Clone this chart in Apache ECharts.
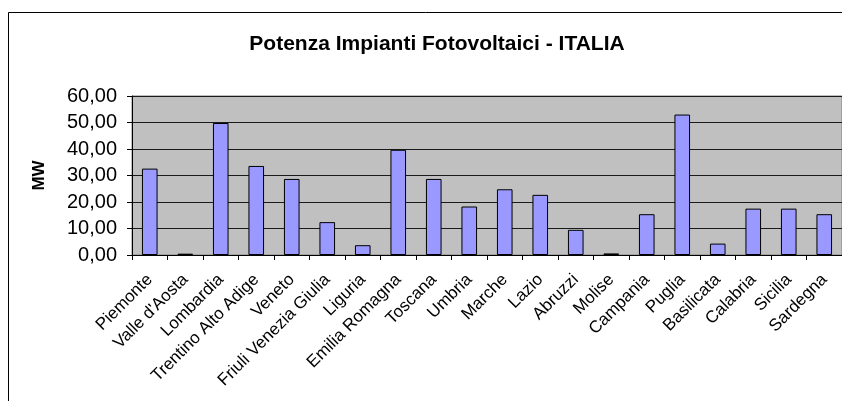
<!DOCTYPE html>
<html>
<head>
<meta charset="utf-8">
<script src="https://cdn.jsdelivr.net/npm/echarts@6/dist/echarts.min.js"></script>
<style>
  html, body { margin: 0; padding: 0; background: #fff; }
  #chart { width: 842px; height: 401px; }
</style>
</head>
<body>
<div id="chart"></div>
<script>
// dati (MW)
var regioni = ['Piemonte', "Valle d'Aosta", 'Lombardia', 'Trentino Alto Adige', 'Veneto',
  'Friuli Venezia Giulia', 'Liguria', 'Emilia Romagna', 'Toscana', 'Umbria', 'Marche',
  'Lazio', 'Abruzzi', 'Molise', 'Campania', 'Puglia', 'Basilicata', 'Calabria', 'Sicilia', 'Sardegna'];
var potenza = [32.6, 0.5, 49.8, 33.6, 28.7, 12.4, 3.7, 39.7, 28.7, 18.3, 24.8,
  22.7, 9.5, 0.6, 15.4, 53.0, 4.3, 17.5, 17.5, 15.4];
var yTicks = [0, 10, 20, 30, 40, 50, 60];

var font = 'Liberation Sans, Arial, sans-serif';
var chart = echarts.init(document.getElementById('chart'));

chart.setOption({
  animation: false,
  backgroundColor: '#ffffff',
  title: {
    text: 'Potenza Impianti Fotovoltaici - ITALIA',
    left: 432,
    top: 29,
    textAlign: 'center',
    textStyle: { fontFamily: font, fontSize: 21, fontWeight: 'bold', color: '#000' }
  },
  graphic: [
    {
      type: 'rect',
      shape: { x: 8.5, y: 12.5, width: 1000, height: 600 },
      style: { fill: null, stroke: '#000', lineWidth: 1 },
      silent: true,
      z: -1
    }
  ],
  grid: {
    left: 132,
    top: 96,
    width: 713,
    height: 159,
    show: true,
    backgroundColor: '#c0c0c0',
    borderColor: '#808080',
    borderWidth: 1
  },
  xAxis: {
    type: 'category',
    data: regioni,
    axisLine: { lineStyle: { color: '#000', width: 1 } },
    axisTick: { show: true, interval: 0, length: 5, lineStyle: { color: '#000' } },
    axisLabel: {
      interval: 0,
      rotate: 45,
      margin: 22,
      fontFamily: font,
      fontSize: 17,
      color: '#000'
    }
  },
  yAxis: {
    type: 'value',
    min: yTicks[0],
    max: yTicks[yTicks.length - 1],
    interval: 10,
    name: 'MW',
    nameLocation: 'middle',
    nameGap: 84,
    nameRotate: 90,
    nameTextStyle: { fontFamily: font, fontSize: 17, fontWeight: 'bold', color: '#000' },
    axisLine: { show: true, lineStyle: { color: '#000', width: 1 } },
    axisTick: { show: true, inside: false, length: 5, lineStyle: { color: '#000' } },
    splitLine: { show: true, lineStyle: { color: '#1a1a1a', width: 1 } },
    axisLabel: {
      margin: 15,
      fontFamily: font,
      fontSize: 20,
      color: '#000',
      formatter: function (v) { return v.toFixed(2).replace('.', ','); }
    }
  },
  series: [
    {
      type: 'bar',
      data: potenza,
      barWidth: '44%',
      itemStyle: { color: '#9999ff', borderColor: '#000', borderWidth: 1 }
    }
  ]
});
</script>
</body>
</html>
